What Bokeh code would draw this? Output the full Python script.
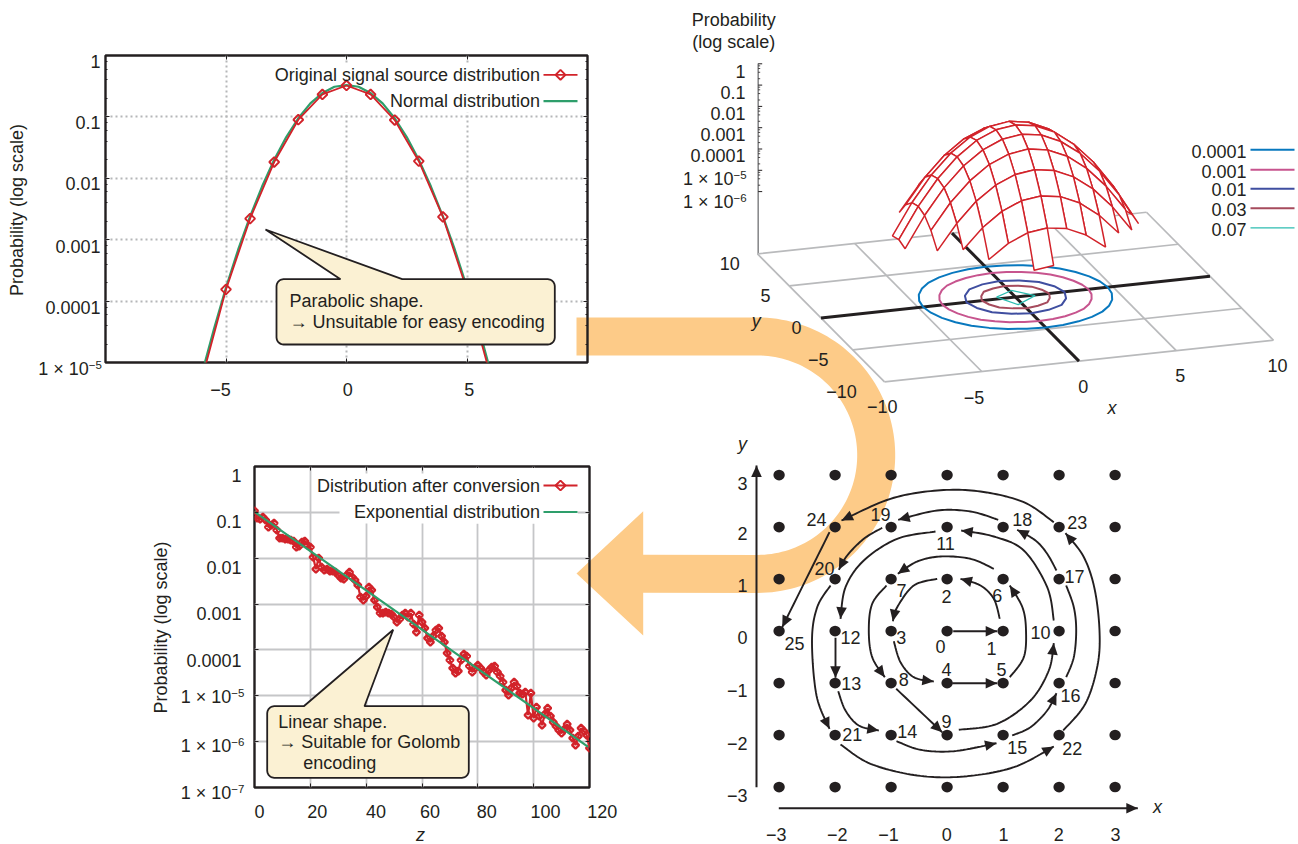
import math
import numpy as np
from bokeh.plotting import figure
from bokeh.embed import file_html
from bokeh.resources import INLINE
from bokeh.core.properties import value
from bokeh.models import FixedTicker, LinearAxis, LogAxis, Range1d, CustomJSTickFormatter

# ---------------------------------------------------------------- data
NORMAL_X = [-6, -5.5, -5, -4.5, -4, -3.5, -3, -2.5, -2, -1.5, -1, -0.5, 0,
            0.5, 1, 1.5, 2, 2.5, 3, 3.5, 4, 4.5, 5, 5.5, 6]
NORMAL_P = [6.6e-6, 3.5e-5, 1.66e-4, 6.8e-4, 2.4e-3, 7.4e-3, 2.0e-2, 4.7e-2, 9.5e-2, 1.66e-1, 2.45e-1, 3.1e-1, 3.3e-1,
            3.1e-1, 2.45e-1, 1.66e-1, 9.5e-2, 4.7e-2, 2.0e-2, 7.4e-3, 2.4e-3, 6.8e-4, 1.66e-4, 3.5e-5, 6.6e-6]
SOURCE_X = [-6, -5, -4, -3, -2, -1, 0, 1, 2, 3, 4, 5, 6]
SOURCE_P = [5.4e-6, 1.55e-4, 2.2e-3, 1.84e-2, 9.0e-2, 2.32e-1, 3.25e-1, 2.32e-1, 8.9e-2, 1.9e-2, 2.35e-3, 1.5e-4, 5.6e-6]

CONV_LOG10 = [-0.966, -1.125, -1.147, -1.104, -1.169, -1.322, -1.278, -1.234, -1.387, -1.562,
              -1.562, -1.584, -1.584, -1.605, -1.627, -1.758, -1.736, -1.649, -1.627, -1.714,
              -1.758, -1.976, -2.238, -1.998, -2.194, -2.260, -2.238, -2.281, -2.281, -2.303,
              -2.369, -2.434, -2.456, -2.369, -2.303, -2.412, -2.478, -2.587, -2.848, -2.914,
              -2.827, -2.630, -2.696, -2.914, -3.067, -3.197, -3.197, -3.176, -3.197, -3.219,
              -3.285, -3.394, -3.328, -3.241, -3.197, -3.285, -3.197, -3.437, -3.612, -3.241,
              -3.394, -3.525, -3.743, -3.830, -3.699, -3.568, -3.525, -3.699, -3.830, -4.070,
              -4.222, -4.397, -4.506, -4.463, -4.222, -4.092, -4.135, -4.353, -4.484, -4.397,
              -4.332, -4.397, -4.484, -4.550, -4.441, -4.375, -4.353, -4.484, -4.571, -4.702,
              -4.877, -4.986, -4.833, -4.702, -4.789, -4.942, -4.964, -4.920, -5.422, -4.942,
              -5.488, -5.248, -5.444, -5.640, -5.400, -5.270, -5.444, -5.575, -5.662, -5.749,
              -5.815, -5.727, -5.618, -5.749, -5.924, -6.076, -5.880, -5.706, -5.771, -5.859,
              -6.142]
EXPO_Z = [0, 20, 40, 60, 80, 100, 119.5]
EXPO_LOG10 = [-0.988, -1.844, -2.700, -3.556, -4.412, -5.268, -6.113]

P1_Y = [1, 0.1, 0.01, 0.001, 0.0001, 1e-5]
P1_Y_TXT = ["1", "0.1", "0.01", "0.001", "0.0001", "1 × 10"]
P1_X = [-5, 0, 5]
P2_Y = [1, 0.1, 0.01, 0.001, 0.0001, 1e-5, 1e-6, 1e-7]
P2_Y_TXT = ["1", "0.1", "0.01", "0.001", "0.0001", "1 × 10", "1 × 10", "1 × 10"]
P2_X = [0, 20, 40, 60, 80, 100, 120]

Z3_TXT = ["1", "0.1", "0.01", "0.001", "0.0001", "1 × 10", "1 × 10"]
N = float("nan")
# log10 probability on the integer grid; rows y = 6 ... -6, columns x = -6 ... 6
SURFACE = [
 [N, N, N, N, N, -5.80, -5.67, -5.80, N, N, N, N, N],
 [N, N, N, -5.40, -4.74, -4.34, -4.21, -4.34, -4.74, -5.40, N, N, N],
 [N, N, -5.14, -4.21, -3.54, -3.14, -3.01, -3.14, -3.54, -4.21, -5.14, N, N],
 [N, -5.40, -4.21, -3.27, -2.61, -2.21, -2.08, -2.21, -2.61, -3.27, -4.21, -5.40, N],
 [N, -4.74, -3.54, -2.61, -1.94, -1.55, -1.41, -1.55, -1.94, -2.61, -3.54, -4.74, N],
 [-5.80, -4.34, -3.14, -2.21, -1.55, -1.15, -1.01, -1.15, -1.55, -2.21, -3.14, -4.34, -5.80],
 [-5.67, -4.21, -3.01, -2.08, -1.41, -1.01, -0.88, -1.01, -1.41, -2.08, -3.01, -4.21, -5.67],
 [-5.80, -4.34, -3.14, -2.21, -1.55, -1.15, -1.01, -1.15, -1.55, -2.21, -3.14, -4.34, -5.80],
 [N, -4.74, -3.54, -2.61, -1.94, -1.55, -1.41, -1.55, -1.94, -2.61, -3.54, -4.74, N],
 [N, -5.40, -4.21, -3.27, -2.61, -2.21, -2.08, -2.21, -2.61, -3.27, -4.21, -5.40, N],
 [N, N, -5.14, -4.21, -3.54, -3.14, -3.01, -3.14, -3.54, -4.21, -5.14, N, N],
 [N, N, N, -5.40, -4.74, -4.34, -4.21, -4.34, -4.74, -5.40, N, N, N],
 [N, N, N, N, N, -5.80, -5.67, N, N, N, N, N, N],
]
CONTOUR_LEVELS = ["0.0001", "0.001", "0.01", "0.03", "0.07"]
CONTOUR_COLORS = ["#0878BE", "#C7548E", "#3F4EA0", "#A64B5D", "#2CBCB0"]
CONTOUR_WIDTHS = [2.0, 2.0, 2.0, 2.0, 1.2]
CONTOUR_RADII = [
 [4.75, 4.74, 4.74, 4.75, 4.76, 4.75, 4.74, 4.74, 4.75, 4.74, 4.74, 4.75, 4.76, 4.75, 4.74, 4.74,
  4.75, 4.74, 4.74, 4.75, 4.76, 4.75, 4.74, 4.74, 4.75, 4.74, 4.74, 4.75, 4.76, 4.75, 4.74, 4.74],
 [3.75, 3.74, 3.73, 3.74, 3.76, 3.74, 3.73, 3.74, 3.75, 3.74, 3.73, 3.74, 3.76, 3.74, 3.73, 3.74,
  3.75, 3.74, 3.73, 3.74, 3.76, 3.74, 3.73, 3.74, 3.75, 3.74, 3.73, 3.74, 3.76, 3.74, 3.73, 3.74],
 [2.52, 2.49, 2.53, 2.48, 2.52, 2.49, 2.53, 2.48, 2.52, 2.49, 2.53, 2.48, 2.52, 2.49, 2.53, 2.48],
 [1.73, 1.69, 1.74, 1.68, 1.73, 1.69, 1.74, 1.68, 1.73, 1.69, 1.74, 1.68, 1.73, 1.69, 1.74, 1.68],
]
CONTOUR_007_X = [-0.88, 0.12, 0.98, -0.22]
CONTOUR_007_Y = [0.29, 1.0, -0.085, -1.1]

GRID_VALUES = [-3, -2, -1, 0, 1, 2, 3]
SPIRAL_LABELS = [str(i) for i in range(26)]

INK = "#231F20"
RED = "#D2232A"
GREEN = "#2E9E6B"
ORANGE = "#FDCB88"
CREAM = "#FBF1D3"
FONT = "Liberation Sans"
FS = "18px"
SUP = "11.5px"

# ---------------------------------------------------------------- helpers
W, H = 1298, 844

def base(x_range=None, y_range=None, **kw):
    f = figure(width=W, height=H, x_range=x_range, y_range=y_range,
               toolbar_location=None, output_backend="svg", **kw)
    f.background_fill_color = None
    f.border_fill_color = None
    f.outline_line_color = None
    f.styles = {"position": "absolute", "left": "0px", "top": "0px"}
    return f

def screen_fig():
    f = base(Range1d(0, W), Range1d(H, 0), min_border=0)
    f.axis.visible = False
    f.grid.visible = False
    return f

def T(f, x, y, s, size=FS, align="center", style="normal", angle=0, color=INK):
    f.text([x], [y], text=[s], text_font=value(FONT), text_font_size=value(size), text_color=color,
           text_align=align, text_baseline="middle", text_font_style=style, angle=angle)

EMPTY = CustomJSTickFormatter(code="return ''")

def plot_frame(left, right, top, bottom, xr, yr, xticks, yticks, minor, grid_kw):
    f = base(Range1d(*xr), Range1d(*yr), y_axis_type="log",
             min_border_left=left, min_border_right=W - right, min_border_top=top, min_border_bottom=H - bottom)
    f.outline_line_color = INK
    f.outline_line_width = 2.4
    f.xaxis[0].ticker = FixedTicker(ticks=xticks)
    f.yaxis[0].ticker = FixedTicker(ticks=yticks, minor_ticks=minor)
    f.add_layout(LinearAxis(ticker=FixedTicker(ticks=xticks)), "above")
    f.add_layout(LogAxis(ticker=FixedTicker(ticks=yticks, minor_ticks=minor)), "right")
    for ax in f.axis:
        ax.formatter = EMPTY
        ax.axis_line_color = None
        ax.major_tick_in = 4
        ax.major_tick_out = 0
        ax.minor_tick_in = 2
        ax.minor_tick_out = 0
        ax.major_tick_line_color = INK
        ax.minor_tick_line_color = INK
    f.xgrid[0].ticker = FixedTicker(ticks=xticks)
    f.ygrid[0].ticker = FixedTicker(ticks=yticks)
    for g in (f.xgrid[0], f.ygrid[0]):
        for k, v in grid_kw.items():
            setattr(g, k, v)
    return f

def minor_decades(lo, hi):
    return [m * 10.0 ** e for e in range(lo, hi) for m in (2, 4, 6, 8)]

# ---------------------------------------------------------------- orange arrow
bg = screen_fig()
cx, cy, R_o, R_i = 757, 454.7, 137.7, 99.7
th = np.linspace(math.pi / 2, -math.pi / 2, 90)
ax_ = [576, cx] + list(cx + R_o * np.cos(th)) + [642.7, 642.7, 576, 642.7, 642.7] + list(cx + R_i * np.cos(th[::-1])) + [576]
ay_ = [317, 317] + list(cy - R_o * np.sin(th)) + [592.3, 635, 573, 510.7, 554.3] + list(cy - R_i * np.sin(th[::-1])) + [355]
bg.patch(ax_, ay_, fill_color=ORANGE, line_color=None)

# ---------------------------------------------------------------- top-left plot
p1 = plot_frame(105, 587, 55, 362, (-10, 10), (1e-5, 1), P1_X, P1_Y, minor_decades(-5, 0),
                dict(grid_line_color="#B5B6B8", grid_line_width=2, grid_line_dash="2 3"))
p1.quad(left=[-3.1], right=[9.6], top=[10 ** (-(63 - 55) / 61.5)], bottom=[10 ** (-(112 - 55) / 61.5)],
        fill_color="white", line_color=None)
p1.line(NORMAL_X, NORMAL_P, line_color=GREEN, line_width=2.2)
p1.line(SOURCE_X, SOURCE_P, line_color=RED, line_width=1.8)
p1.scatter(SOURCE_X, SOURCE_P, marker="square", angle=math.pi / 4, size=7,
           fill_color=None, line_color=RED, line_width=1.9)

# ---------------------------------------------------------------- bottom-left plot
p2 = plot_frame(254, 589, 466, 787, (0, 120), (1e-7, 1), P2_X, P2_Y, [],
                dict(grid_line_color="#C5C6C8", grid_line_width=1.8))
p2.line(list(range(121)), [10 ** v for v in CONV_LOG10], line_color=RED, line_width=2.2)
p2.scatter(list(range(121)), [10 ** v for v in CONV_LOG10], marker="square", angle=math.pi / 4, size=5,
           fill_color=None, line_color=RED, line_width=2.3)
p2.line(EXPO_Z, [10 ** v for v in EXPO_LOG10], line_color=GREEN, line_width=2.2)

# ---------------------------------------------------------------- overlay: labels, 3D view, legends, callouts
ov = screen_fig()

# tick labels of the two plots
P1_DY = [5.7, 5, 5, 6, 5.7, 6]
for v, s, dy in zip(P1_Y, P1_Y_TXT, P1_DY):
    yy = 55 - 61.5 * math.log10(v) + dy
    if s.startswith("1 ×"):
        T(ov, 88.3, yy, s, align="right")
        T(ov, 88.3, yy - 4, "−5", size=SUP, align="left")
    else:
        T(ov, 100, yy, s, align="right")
for v, s, dx in zip(P1_X, ["−5", "0", "5"], [-6, 1, 2]):
    T(ov, 346.3 + 24.07 * v + dx, 389, s)

P2_DY = [9, 9, 9, 9, 10, 1, 3.5, 5.5]
EXPS = {1e-5: "−5", 1e-6: "−6", 1e-7: "−7"}
for v, s, dy in zip(P2_Y, P2_Y_TXT, P2_DY):
    yy = 466.4 - 45.85 * math.log10(v) + dy
    if s.startswith("1 ×"):
        T(ov, 230.7, yy, s, align="right")
        T(ov, 230.7, yy - 4, EXPS[v], size=SUP, align="left")
    else:
        T(ov, 241, yy, s, align="right")
for v, dx in zip(P2_X, [5, 7, 10, 8, 9, 12, 13]):
    T(ov, 254 + 2.79 * v + dx, 810.7, str(v))

# legend box of the lower plot hides its grid
ov.quad(left=[339], right=[577], top=[473], bottom=[523], fill_color="white", line_color=None)
ov.quad(left=[430], right=[577], top=[467.5], bottom=[523], fill_color="white", line_color=None)

def legend_row(f, xr, xl, y, label, color, marker=False, width=1.8, size=FS):
    T(f, xr, y, label, align="right", size=size)
    f.line([xl[0], xl[1]], [y, y], line_color=color, line_width=width)
    if marker:
        f.scatter([(xl[0] + xl[1]) / 2], [y], marker="square", angle=math.pi / 4, size=7,
                  fill_color=None, line_color=color, line_width=1.9)

legend_row(ov, 539.5, (543, 577), 74.3, "Original signal source distribution", RED, True)
legend_row(ov, 539.5, (543, 577), 100.7, "Normal distribution", GREEN, width=2.2)
legend_row(ov, 539.5, (543, 577), 485, "Distribution after conversion", RED, True)
legend_row(ov, 539.5, (543, 577), 511.5, "Exponential distribution", GREEN, width=2.2)

T(ov, 16, 209.5, "Probability (log scale)", angle=math.pi / 2)
T(ov, 160, 627, "Probability (log scale)", angle=math.pi / 2)
T(ov, 420, 834, "z", style="italic")

def callout(f, l, r, t, b, rad, tail):
    (bx1, tipx, tipy, bx2) = tail
    xs, ys = [], []
    def arc(cxx, cyy, a0, a1):
        for a in np.linspace(a0, a1, 6):
            xs.append(cxx + rad * math.cos(a))
            ys.append(cyy + rad * math.sin(a))
    arc(l + rad, t + rad, math.pi, 1.5 * math.pi)
    xs += [bx1, tipx, bx2]
    ys += [t, tipy, t]
    arc(r - rad, t + rad, 1.5 * math.pi, 2 * math.pi)
    arc(r - rad, b - rad, 0, 0.5 * math.pi)
    arc(l + rad, b - rad, 0.5 * math.pi, math.pi)
    f.patch(xs, ys, fill_color=CREAM, line_color=INK, line_width=1.8)

callout(ov, 276, 554.3, 278.7, 344, 7, (340, 265, 229, 401.7))
T(ov, 289, 300.7, "Parabolic shape.", align="left")
T(ov, 289, 321.7, "→ Unsuitable for easy encoding", align="left")
callout(ov, 266.7, 468.3, 705.7, 777.3, 7, (303.3, 392.7, 629.3, 364))
T(ov, 277.7, 721, "Linear shape.", align="left")
T(ov, 277.7, 741.7, "→ Suitable for Golomb", align="left")
T(ov, 302.7, 762.7, "encoding", align="left")

# 3D projection of (x, y, log10 P)
OX, OY = 1015.0, 296.6
def floor(x, y):
    return OX + 19.45 * np.asarray(x, float) - 6.35 * np.asarray(y, float), OY - 2.085 * np.asarray(x, float) - 6.4 * np.asarray(y, float)
def surf(x, y, L):
    sx, sy = floor(x, y)
    return sx, sy - (L + 8.96) * 21.3

# vertical axis
ZX = 757.7
GREY = "#B9BABC"
ov.line([ZX, ZX], [63, 254], line_color="#8A8B8D", line_width=1.6)
for e in range(7):
    yy = 63.3 + e * 21.3
    ov.line([ZX, ZX + 4], [yy, yy], line_color=INK, line_width=1)
    for m in (2, 4, 6, 8):
        if e < 6:
            yy2 = 63.3 + 21.3 * (e + 1) - math.log10(m) * 21.3
            ov.line([ZX, ZX + 2], [yy2, yy2], line_color=INK, line_width=0.8)
Z_LAB_Y = [71, 91.7, 113.3, 134, 155, 178, 201]
for t, yy, i in zip(Z3_TXT, Z_LAB_Y, range(7)):
    if t.startswith("1 ×"):
        T(ov, 733, yy, t, align="right")
        T(ov, 733, yy - 4, "−5" if i == 5 else "−6", size=SUP, align="left")
    else:
        T(ov, 745, yy, t, align="right")
T(ov, 733.3, 19.3, "Probability")
T(ov, 733.3, 41.7, "(log scale)")

# floor
for a, b, c, d in [(-10, -10, 10, -10), (10, -10, 10, 10), (10, 10, -10, 10), (-10, 10, -10, -10),
                   (-5, -10, -5, 10), (5, -10, 5, 10), (-10, -5, 10, -5), (-10, 5, 10, 5)]:
    sx, sy = floor([a, c], [b, d])
    ov.line(sx, sy, line_color=GREY, line_width=1.7)
sx, sy = floor([-10, 10], [0, 0])
ov.line(sx, sy, line_color=INK, line_width=3)
sx, sy = floor([0, 0], [-10, 10])
ov.line(sx, sy, line_color=INK, line_width=3)

# contours
for radii, col, w in zip(CONTOUR_RADII, CONTOUR_COLORS, CONTOUR_WIDTHS):
    ang = np.arange(len(radii) + 1) * 2 * math.pi / len(radii)
    rr = np.array(radii + radii[:1])
    sx, sy = floor(rr * np.cos(ang), rr * np.sin(ang))
    ov.line(sx, sy, line_color=col, line_width=w)
sx, sy = floor(CONTOUR_007_X + CONTOUR_007_X[:1], CONTOUR_007_Y + CONTOUR_007_Y[:1])
ov.line(sx, sy, line_color=CONTOUR_COLORS[4], line_width=CONTOUR_WIDTHS[4])

# surface: quads painted back to front
grid_x = list(range(-6, 7))
grid_y = list(range(6, -7, -1))
quads = []
for r in range(12):
    for c in range(12):
        vals = [SURFACE[r][c], SURFACE[r][c + 1], SURFACE[r + 1][c + 1], SURFACE[r + 1][c]]
        if any(math.isnan(v) for v in vals):
            continue
        xs4 = [grid_x[c], grid_x[c + 1], grid_x[c + 1], grid_x[c]]
        ys4 = [grid_y[r], grid_y[r], grid_y[r + 1], grid_y[r + 1]]
        depth = 6.4 * sum(ys4) + 2.085 * sum(xs4)
        quads.append((depth, xs4, ys4, vals))
quads.sort(key=lambda q: -q[0])
qx, qy = [], []
for _, xs4, ys4, vals in quads:
    sx, sy = surf(xs4, ys4, np.array(vals))
    qx.append(list(sx))
    qy.append(list(sy))
ov.patches(qx, qy, fill_color="white", line_color=RED, line_width=1.5)

# axis numbers of the 3D view
for s, x, y in [("−5", 973.5, 396.7), ("0", 1082.8, 386), ("5", 1179.8, 375), ("10", 1277, 365),
                ("−10", 881.7, 406), ("10", 729.3, 263.3), ("5", 765, 295), ("0", 796, 326.7),
                ("−5", 817.7, 359.3), ("−10", 841, 390.7)]:
    T(ov, x, y, s)
T(ov, 1111.4, 407, "x", style="italic")
T(ov, 755.7, 320, "y", style="italic")

# contour legend
for lev, col, w, yl, yt in zip(CONTOUR_LEVELS, CONTOUR_COLORS, CONTOUR_WIDTHS,
                               [149.3, 169.3, 188.3, 207.7, 227.3], [151, 171, 189, 209, 229]):
    T(ov, 1246, yt, lev, align="right")
    ov.line([1250, 1294], [yl, yl], line_color=col, line_width=w)

# ---------------------------------------------------------------- spiral scan figure (grid units)
GX0, GY0, UX, UY = 946.6, 630.6, 56.0, 52.0
sp = base(Range1d((0 - GX0) / UX, (W - GX0) / UX), Range1d((GY0 - H) / UY, GY0 / UY), min_border=0)
sp.axis.visible = False
sp.grid.visible = False

def to_g(px, py):
    return (np.asarray(px, float) - GX0) / UX, (GY0 - np.asarray(py, float)) / UY

dx_, dy_ = np.meshgrid(GRID_VALUES, GRID_VALUES)
sp.ellipse(dx_.ravel(), dy_.ravel(), width=11.4, height=10.6, width_units="screen", height_units="screen",
           fill_color=INK, line_color=None)

def spline(pts, n=14):
    pts = [pts[0]] + pts + [pts[-1]]
    out = []
    for i in range(1, len(pts) - 2):
        p0, p1_, p2_, p3 = [np.array(q, float) for q in pts[i - 1:i + 3]]
        for t in np.linspace(0, 1, n, endpoint=False):
            out.append(0.5 * ((2 * p1_) + (p2_ - p0) * t + (2 * p0 - 5 * p1_ + 4 * p2_ - p3) * t ** 2 +
                              (3 * p1_ - p0 - 3 * p2_ + p3) * t ** 3))
    out.append(np.array(pts[-1], float))
    return np.array(out)

def arrow(pts, head=True, width=1.9, hl=11.5, hw=5.3):
    c = spline(pts)
    gx, gy = to_g(c[:, 0], c[:, 1])
    sp.line(gx, gy, line_color=INK, line_width=width)
    if head:
        tip = c[-1]
        k = np.array(pts[-1], float) - c[-6]
        k = k / np.hypot(*k)
        n_ = np.array([-k[1], k[0]])
        b = tip - k * hl
        tri = np.array([tip, b + n_ * hw, b - n_ * hw])
        gx, gy = to_g(tri[:, 0], tri[:, 1])
        sp.patch(gx, gy, fill_color=INK, line_color=None)

ARROWS = [
 [(952.7, 630.7), (996.7, 630.7)],
 [(999.3, 618.3), (993.3, 598.3), (980, 585), (960, 578.3)],
 [(936.7, 578.3), (913.3, 585), (896.7, 606.7), (892.3, 620.7)],
 [(893.3, 640.7), (900, 661.7), (913.3, 676.7), (933.3, 681)],
 [(951.7, 682.7), (996.7, 682.7)],
 [(1009.3, 676.7), (1023.3, 656.7), (1025.5, 630), (1022, 607), (1009.3, 585)],
 [(993.3, 568.3), (970, 558.3), (940, 556), (916.7, 561), (897.3, 573.3)],
 [(886, 585), (871.7, 603.3), (868.3, 630), (871.7, 656.7), (884.3, 676.7)],
 [(895.7, 688.3), (941.7, 731.7)],
 [(958.3, 729.3), (996.7, 723.3), (1030, 700), (1048.3, 670), (1053.3, 642.7)],
 [(1053.3, 620), (1046.7, 586.7), (1023.3, 550), (993.3, 536), (960.7, 530)],
 [(935, 531), (896.7, 538.3), (863.3, 560), (845, 586.7), (840, 618.3)],
 [(835, 637.3), (835, 677.3)],
 [(837.7, 690.7), (845, 710), (858.3, 725), (878.3, 730)],
 [(896, 740.7), (920, 749.3), (953.3, 750.7), (996, 742.7)],
 [(1011.7, 735), (1030, 726.7), (1046.7, 710), (1056, 692.7)],
 [(1065.7, 676.7), (1073.3, 656.7), (1075.7, 630), (1073.3, 606.7), (1065.7, 585)],
 [(1056, 570), (1046.7, 553.3), (1035, 540), (1016.7, 529.3)],
 [(997.7, 519.3), (970, 511), (936.7, 510), (897.7, 519.3)],
 [(881.7, 527.3), (863.3, 538.3), (846.7, 555), (838.3, 569.3)],
 [(830, 585), (816.7, 606.7), (811.5, 640), (816, 695), (829, 728.3)],
 [(840, 744), (870, 763.3), (916.7, 775), (963.3, 776), (1013.3, 766.7), (1053.3, 746)],
 [(1062.7, 730), (1085, 703), (1097, 665), (1099, 630), (1094, 588), (1083, 556), (1065, 532.7)],
 [(1053.3, 521.7), (1023.3, 501.7), (980, 491), (936.7, 490), (890, 498.3), (841, 520)],
 [(829, 531.7), (781.7, 626.7)],
]
for i, a in enumerate(ARROWS):
    arrow(a, head=(i != 16))

LABEL_POS = [(940, 646), (991, 648.3), (946, 595.7), (900.7, 637.3), (946, 668.7), (1001, 669.3), (996.7, 595),
             (901, 590), (903.3, 679.3), (946, 720.7), (1040, 631.7), (945, 543.3), (850, 636.7), (850.7, 683.3),
             (906.7, 730.7), (1016.7, 747.3), (1070, 695), (1074, 575.7), (1021.7, 519.3), (880, 514),
             (824, 567.7), (851.7, 734.3), (1071.7, 747.7), (1076.7, 522.3), (816, 519.3), (794, 642.7)]
for s, (x, y) in zip(SPIRAL_LABELS, LABEL_POS):
    gx, gy = to_g(x, y)
    T(sp, float(gx), float(gy), s)

# axes of the spiral plot
arrow([(756, 786.7), (756, 465)], width=2)
arrow([(778.3, 807.7), (1137.3, 807.7)], width=2)
for v, x in zip(GRID_VALUES, [775.7, 836.7, 888, 946.3, 1003, 1058.3, 1115]):
    gx, gy = to_g(x, 834)
    T(sp, float(gx), float(gy), str(v).replace("-", "−"))
for v, y in zip(GRID_VALUES, [795, 742.7, 690, 636.7, 585, 533.3, 482.7]):
    gx, gy = to_g(747, y)
    T(sp, float(gx), float(gy), str(v).replace("-", "−"), align="right")
gx, gy = to_g(1157, 806)
T(sp, float(gx), float(gy), "x", style="italic")
gx, gy = to_g(742, 443)
T(sp, float(gx), float(gy), "y", style="italic")

open("out.html", "w").write(file_html([bg, p1, p2, ov, sp], INLINE))
